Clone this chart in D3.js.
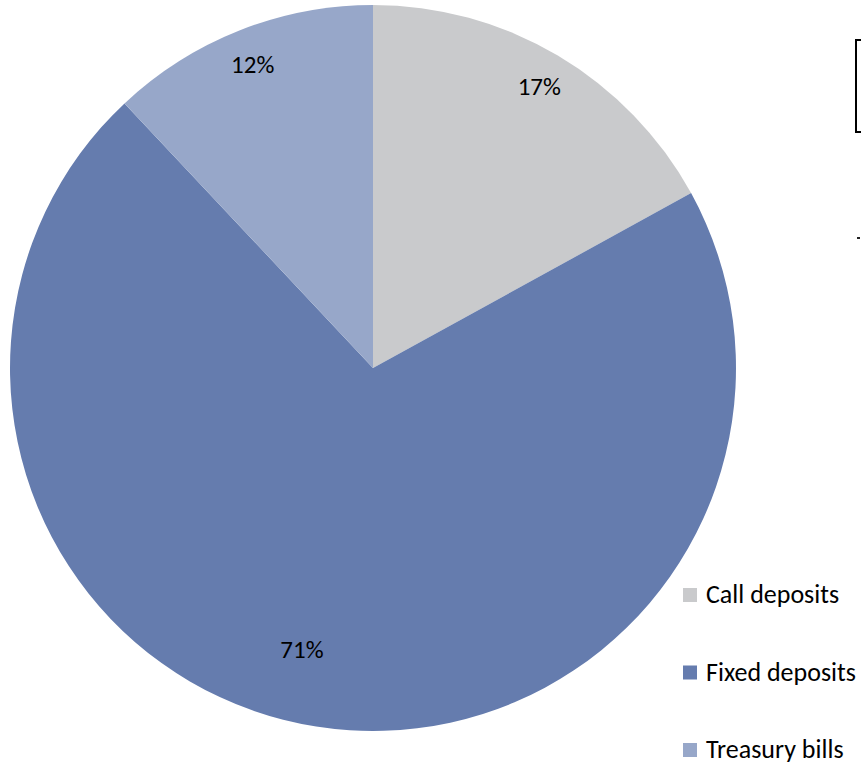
<!DOCTYPE html>
<html>
<head>
<meta charset="utf-8">
<script src="https://cdn.jsdelivr.net/npm/d3@7"></script>
<style>
  html, body { margin: 0; padding: 0; background: #fff; }
  svg { display: block; }
</style>
</head>
<body>
<svg id="chart" width="861" height="763"></svg>
<script>
// Portfolio split by instrument
const categories = ["Call deposits", "Fixed deposits", "Treasury bills"];
const shares = [17, 71, 12];
const colors = ["#C9CACC", "#657CAE", "#97A7C9"];

const svg = d3.select("#chart");
const cx = 373, cy = 368, radius = 363;
const font = "Carlito, Lato, 'Open Sans', 'Liberation Sans', sans-serif";

const data = categories.map((c, i) => ({ name: c, value: shares[i], color: colors[i] }));

const pie = d3.pie().value(d => d.value).sort(null);
const arcs = pie(data);
const arc = d3.arc().innerRadius(0).outerRadius(radius);

const g = svg.append("g").attr("transform", `translate(${cx},${cy})`);

g.selectAll("path.slice")
  .data(arcs)
  .join("path")
  .attr("class", "slice")
  .attr("d", arc)
  .attr("fill", d => d.data.color);

// Percentage labels: small slices near the rim, the large one further in
const maxVal = d3.max(shares);
g.selectAll("text.pct")
  .data(arcs)
  .join("text")
  .attr("class", "pct")
  .attr("transform", d => {
    const r = d.data.value === maxVal ? radius * 0.8 : radius * 0.9;
    const a = (d.startAngle + d.endAngle) / 2 + (d.data.value === maxVal ? 0.09 : 0);
    return `translate(${Math.sin(a) * r},${-Math.cos(a) * r})`;
  })
  .attr("text-anchor", "middle")
  .attr("dominant-baseline", "central")
  .attr("font-family", font)
  .attr("font-size", 25)
  .attr("fill", "#000")
  .text(d => d3.format("d")(d.data.value) + "%");

// Legend
const legend = svg.append("g").attr("transform", "translate(683,594)");
const rowH = 77.5;
const items = legend.selectAll("g.item")
  .data(data)
  .join("g")
  .attr("class", "item")
  .attr("transform", (d, i) => `translate(0,${i * rowH})`);

items.append("rect")
  .attr("x", 0).attr("y", -6)
  .attr("width", 14).attr("height", 14)
  .attr("fill", d => d.color);

items.append("text")
  .attr("x", 23).attr("y", 0)
  .attr("dominant-baseline", "central")
  .attr("font-family", font)
  .attr("font-size", 26)
  .attr("fill", "#000")
  .text(d => d.name);

// Title frame partly outside the drawing area
svg.append("rect")
  .attr("x", 856).attr("y", 40)
  .attr("width", 20).attr("height", 92)
  .attr("fill", "#fff")
  .attr("stroke", "#000")
  .attr("stroke-width", 2);

svg.append("rect")
  .attr("x", 857).attr("y", 237)
  .attr("width", 3).attr("height", 2)
  .attr("fill", "#222");
</script>
</body>
</html>
